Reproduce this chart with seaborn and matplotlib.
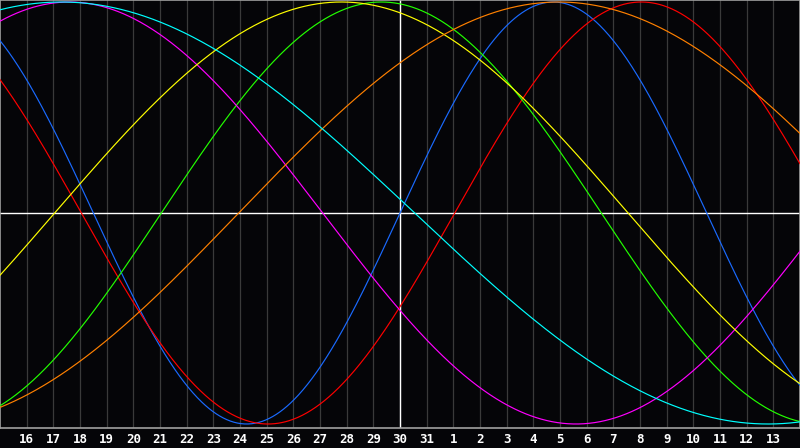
import numpy as np
import pandas as pd
import matplotlib
matplotlib.use("Agg")
import matplotlib.pyplot as plt
import seaborn as sns

# biorhythm cycles: period in days and the day index
# (0 = left edge, 15 = the 30th) where each cycle crosses zero going up
cycles = ['Physical', 'Emotional', 'Intellectual', 'Intuitive',
          'Aesthetic', 'Awareness', 'Spiritual']
periods = [23, 28, 33, 38, 43, 48, 53]
rise_day = [15.0, 17.05, 6.05, -6.9, 2.05, 8.95, -10.95]
colors = ['#1a6aff', '#ff0000', '#22ff00', '#ff00ff',
          '#ffff00', '#ff8000', '#00ffff']

day_labels = [str(d) for d in range(16, 32)] + [str(d) for d in range(1, 14)]
today_index = 15

t = np.linspace(0, 30, 901)
rows = []
for name, p, r in zip(cycles, periods, rise_day):
    for x, v in zip(t, np.sin(2 * np.pi * (t - r) / p)):
        rows.append((name, x, v))
df = pd.DataFrame(rows, columns=['cycle', 'day', 'value'])

sns.set_style('dark')
plt.rcParams['font.family'] = ['DejaVu Sans Mono', 'DejaVu Sans']

fig = plt.figure(figsize=(8, 4.48), dpi=100, facecolor='#050508')
ax = fig.add_axes([0, 20 / 448, 1, 428 / 448])
ax.set_facecolor('#050508')

for i in range(1, 30):
    ax.axvline(i, color='#3a3a3a', lw=0.9, zorder=1)
ax.axvline(today_index, color='white', lw=1.0, zorder=2)
ax.axhline(0, color='white', lw=1.0, zorder=2)

sns.lineplot(data=df, x='day', y='value', hue='cycle', hue_order=cycles,
             palette=colors, linewidth=0.85, legend=False, ax=ax, zorder=3)

ax.set_xlim(0, 30)
ax.set_ylim(-215 / 211, 213 / 211)
ax.set_xticks(range(1, 30))
ax.set_xticklabels(day_labels, color='white', fontweight='bold', fontsize=9)
ax.tick_params(axis='x', length=0, pad=3.5)
ax.set_yticks([])
ax.set_xlabel('')
ax.set_ylabel('')
ax.grid(False)
for side in ['top', 'left', 'right', 'bottom']:
    ax.spines[side].set_visible(True)
    ax.spines[side].set_color('#a0a0a0')
    ax.spines[side].set_linewidth(1.2)

fig.savefig('out.png', dpi=100, facecolor=fig.get_facecolor())
